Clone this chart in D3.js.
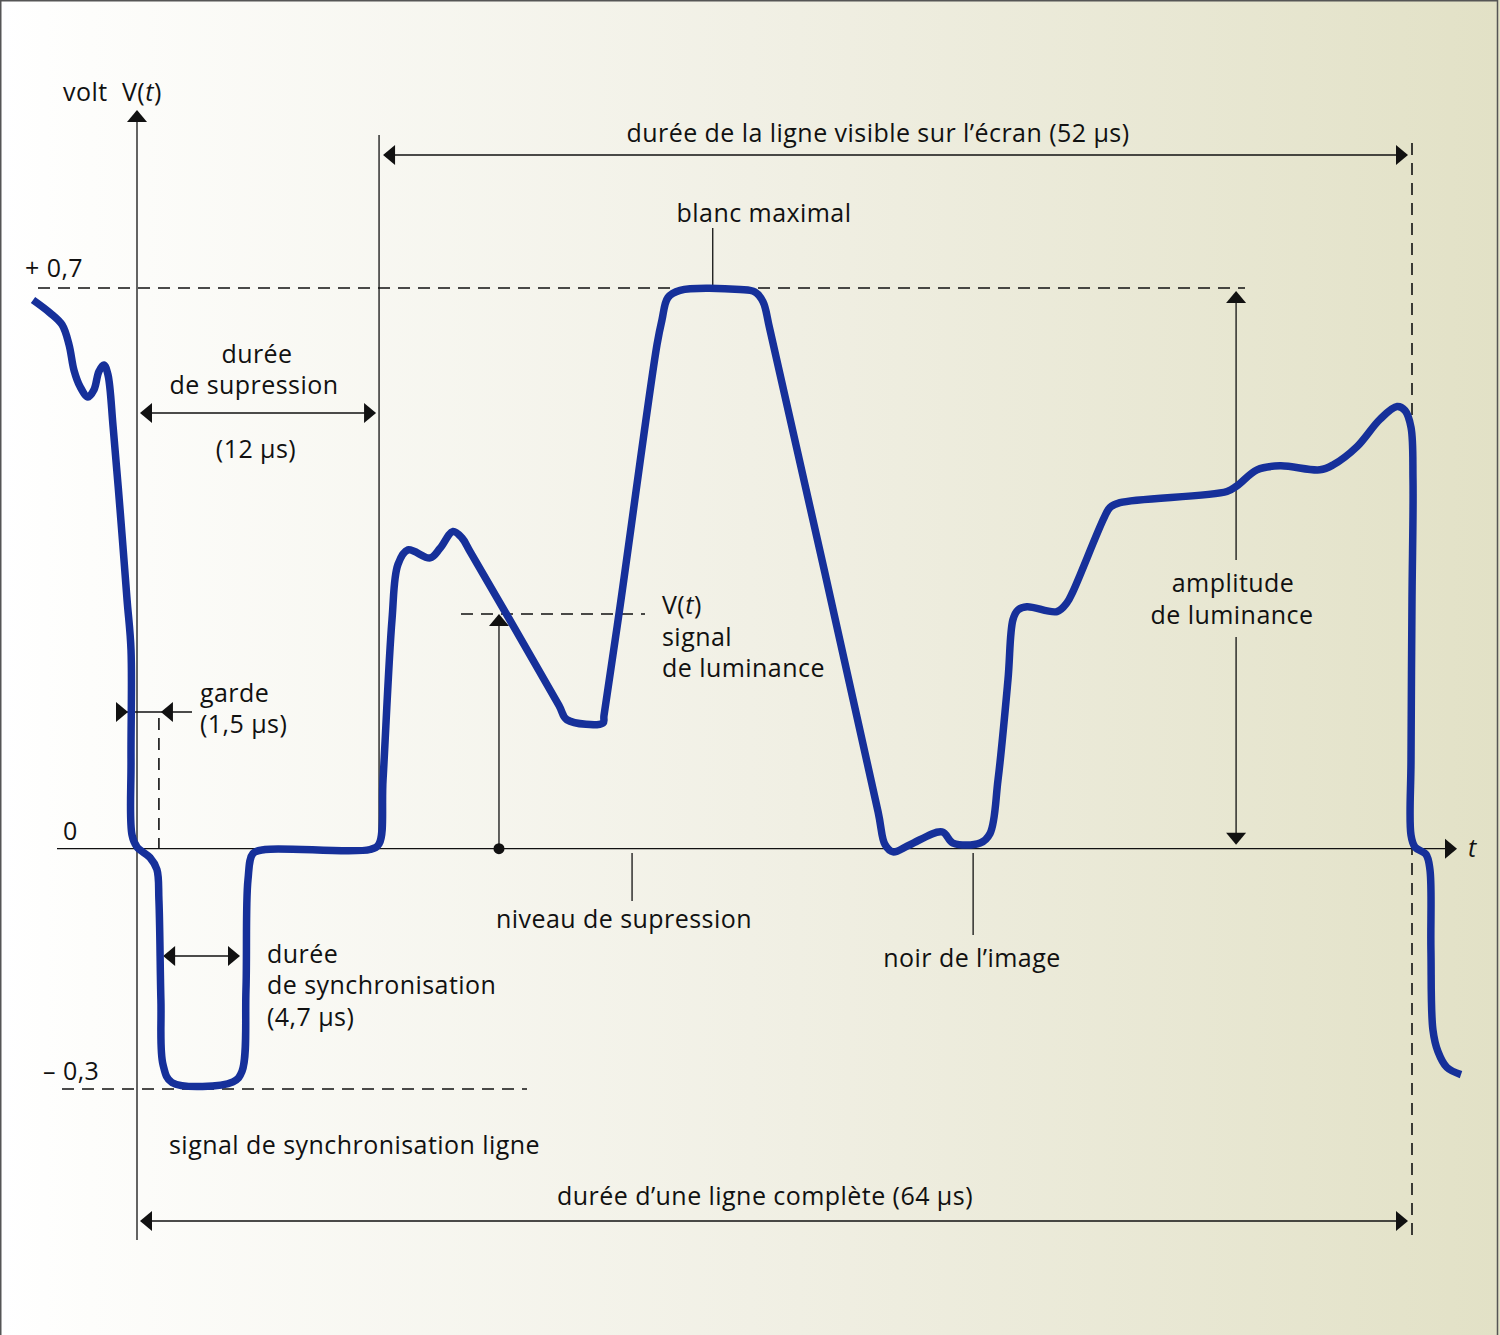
<!DOCTYPE html>
<html><head><meta charset="utf-8">
<script src="https://cdn.jsdelivr.net/npm/d3@7"></script>
<style>
html,body{margin:0;padding:0;background:#fff;}
svg{display:block;}
text{font-family:"Open Sans","Liberation Sans",Arial,sans-serif;font-size:25px;letter-spacing:0.45px;fill:#111;}
</style></head>
<body>
<svg id="chart" width="1500" height="1335"></svg>
<script>
// ---- data (time in µs, voltage in V) ----
const signalTime = [-5.22,-4.37,-3.76,-3.41,-3.16,-2.86,-2.46,-2.16,-1.91,-1.66,-1.46,-1.20,-0.85,-0.50,-0.30,-0.30,-0.25,0.00,0.65,1.00,1.10,1.20,1.31,1.76,4.82,5.27,5.47,5.57,5.82,6.43,11.70,12.15,12.35,12.80,13.10,13.60,14.71,15.21,15.86,16.31,16.72,21.18,21.58,23.39,23.44,24.25,26.10,26.35,26.65,27.26,30.27,31.02,31.42,31.77,37.20,37.55,37.95,38.80,40.41,40.96,42.32,42.82,43.22,43.72,43.97,44.22,44.67,46.18,46.68,46.98,48.54,48.84,49.34,54.71,55.21,56.22,57.37,59.38,60.03,61.24,62.39,63.25,63.65,63.95,64.05,64.00,63.95,63.95,64.15,64.70,64.90,64.95,65.05,65.30,65.75,66.46];
const signalVolt = [0.685,0.669,0.654,0.629,0.597,0.577,0.564,0.573,0.596,0.604,0.592,0.527,0.423,0.311,0.248,0.111,0.017,0.002,-0.011,-0.026,-0.064,-0.189,-0.270,-0.292,-0.291,-0.278,-0.176,-0.039,-0.006,-0.001,-0.001,0.006,0.086,0.286,0.355,0.373,0.363,0.375,0.396,0.388,0.371,0.179,0.161,0.157,0.166,0.303,0.629,0.660,0.688,0.697,0.698,0.695,0.683,0.648,0.046,0.005,-0.004,0.005,0.021,0.007,0.007,0.019,0.086,0.211,0.286,0.298,0.302,0.296,0.307,0.321,0.413,0.426,0.432,0.446,0.453,0.473,0.478,0.473,0.479,0.502,0.536,0.552,0.547,0.526,0.461,0.311,0.111,0.017,0.002,-0.007,-0.026,-0.126,-0.226,-0.253,-0.273,-0.282];

const levelValues = [0.7, 0, -0.3];
const levelLabels = ["+ 0,7", "0", "\u2013 0,3"];

// key instants (µs)
const tGuard = 1.10;
const tSyncStart = 1.31, tSyncEnd = 5.22;
const tBlankEnd = 12.15;
const tLineEnd = 64;
const tWhite = 28.9;
const tSample = 18.17;
const vSample = 0.293;
const tNiveau = 24.85;
const tNoir = 41.97;
const tAmp = 55.17;

// ---- scales ----
const x = d3.scaleLinear().domain([0, 64]).range([137, 1412]);
const y = d3.scaleLinear().domain([-0.3, 0.7]).range([1089, 288]);

const svg = d3.select("#chart");

const defs = svg.append("defs");
const grad = defs.append("linearGradient").attr("id","bg").attr("x1","0").attr("x2","1").attr("y1","0").attr("y2","0");
grad.append("stop").attr("offset","0").attr("stop-color","#ffffff");
grad.append("stop").attr("offset","0.06").attr("stop-color","#fdfdfb");
grad.append("stop").attr("offset","0.5").attr("stop-color","#f1f0e5");
grad.append("stop").attr("offset","1").attr("stop-color","#e2e1c6");
svg.append("rect").attr("width",1500).attr("height",1335).attr("fill","url(#bg)");
svg.append("path").attr("d","M0.75,1335 V0.75 H1497.5 V1335").attr("fill","none").attr("stroke","#555").attr("stroke-width",1.5);

const ink = "#111";
function line(x1,y1,x2,y2,dash){
  const l = svg.append("line").attr("x1",x1).attr("y1",y1).attr("x2",x2).attr("y2",y2)
    .attr("stroke",ink).attr("stroke-width",dash?1.6:1.3);
  if(dash) l.attr("stroke-dasharray","12,8");
  return l;
}
function head(tx,ty,dir){
  const L=12,W=10; let p;
  if(dir==='r') p=[[tx,ty],[tx-L,ty-W],[tx-L,ty+W]];
  if(dir==='l') p=[[tx,ty],[tx+L,ty-W],[tx+L,ty+W]];
  if(dir==='u') p=[[tx,ty],[tx-W,ty+L],[tx+W,ty+L]];
  if(dir==='d') p=[[tx,ty],[tx-W,ty-L],[tx+W,ty-L]];
  svg.append("path").attr("d","M"+p.map(d=>d.join(",")).join("L")+"Z").attr("fill",ink);
}
function hArrow(x1,x2,yy){ line(x1+6,yy,x2-6,yy); head(x1,yy,'l'); head(x2,yy,'r'); }
function txt(s,tx,ty,anchor){
  return svg.append("text").attr("x",tx).attr("y",ty).attr("text-anchor",anchor||"start").text(s);
}

// dashed reference levels
line(38, y(0.7), 1245, y(0.7), true);
line(62, y(-0.3), 527, y(-0.3), true);
line(461, y(vSample), 645, y(vSample), true);
line(x(tGuard), 718, x(tGuard), y(0), true);
line(x(tLineEnd), 143, x(tLineEnd), 1236, true);

// axes
line(x(0), 1240, x(0), 120);
head(x(0), 110, 'u');
line(57, y(0), 1447, y(0));
head(1457, y(0), 'r');

const labelX = [25, 63, 43];
const labelDy = [-11, -9, -9];
levelValues.forEach((v,i)=> txt(levelLabels[i], labelX[i], y(v)+labelDy[i]));

const yt = txt("volt", 63, 101);
yt.append("tspan").attr("x",122).text("V(");
yt.append("tspan").attr("font-style","italic").text("t");
yt.append("tspan").text(")");
txt("t", 1468, 857).attr("font-style","italic");

// structure lines
line(x(tBlankEnd), 135, x(tBlankEnd), 846);
line(x(tWhite), 228, x(tWhite), 287);
line(x(tNiveau), 853, x(tNiveau), 901);
line(x(tNoir), 853, x(tNoir), 935);

hArrow(x(tBlankEnd)+4, x(tLineEnd)-4, 155);
hArrow(x(0)+3, x(tBlankEnd)-3, 413);
hArrow(x(tSyncStart), x(tSyncEnd)-1, 956);
hArrow(x(0)+3, x(tLineEnd)-4, 1221);
line(127, 712, 192, 712);
head(128, 712, 'r');
head(x(tGuard)+2, 712, 'l');

line(x(tSample), y(0), x(tSample), y(vSample)+8);
head(x(tSample), y(vSample), 'u');
svg.append("circle").attr("cx",x(tSample)).attr("cy",y(0)).attr("r",5.5).attr("fill",ink);

line(x(tAmp), y(0.7)+8, x(tAmp), 560);
line(x(tAmp), 637, x(tAmp), y(0)-8);
head(x(tAmp), y(0.7)+3, 'u');
head(x(tAmp), y(0)-4, 'd');

// signal
const pts = signalTime.map((t,i)=>[t, signalVolt[i]]);
svg.append("path").datum(pts)
  .attr("d", d3.line().x(d=>x(d[0])).y(d=>y(d[1])).curve(d3.curveCatmullRom.alpha(0.5)))
  .attr("fill","none").attr("stroke","#16309a").attr("stroke-width",7.5)
  .attr("stroke-linejoin","round").attr("stroke-linecap","butt");

// texts
txt("durée de la ligne visible sur l\u2019écran (52 µs)", 878, 142, "middle");
txt("blanc maximal", 764, 222, "middle");
txt("durée", 257, 363, "middle");
txt("de supression", 254, 394, "middle");
txt("(12 µs)", 256, 458, "middle");
txt("garde", 200, 702);
txt("(1,5 µs)", 200, 733);
const vt = txt("V(", 662, 614);
vt.append("tspan").attr("font-style","italic").text("t");
vt.append("tspan").text(")");
txt("signal", 662, 646);
txt("de luminance", 662, 677);
txt("amplitude", 1233, 592, "middle");
txt("de luminance", 1232, 624, "middle");
txt("niveau de supression", 624, 928, "middle");
txt("noir de l\u2019image", 972, 967, "middle");
txt("durée", 267, 963);
txt("de synchronisation", 267, 994);
txt("(4,7 µs)", 267, 1026);
txt("signal de synchronisation ligne", 169, 1154);
txt("durée d\u2019une ligne complète (64 µs)", 765, 1205, "middle");
</script>
</body></html>
